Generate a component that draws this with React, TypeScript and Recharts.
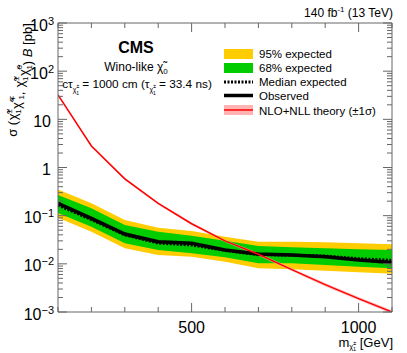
import React from "react";
import { ComposedChart, Area, Line, XAxis, YAxis } from "recharts";

// chargino mass points (GeV)
const masses = [100, 200, 300, 400, 500, 600, 700, 800, 900, 1000, 1100];

// cross section limits (pb)
const observed = [0.181, 0.088, 0.0417, 0.0288, 0.0267, 0.0194, 0.016, 0.0153, 0.0141, 0.012, 0.0106];
const medianExpected = [0.165, 0.083, 0.04, 0.027, 0.0246, 0.019, 0.0155, 0.0152, 0.0145, 0.0128, 0.0118];
const exp68Low = [0.113, 0.059, 0.0267, 0.0194, 0.0166, 0.0137, 0.0103, 0.0103, 0.0095, 0.0087, 0.0081];
const exp68High = [0.268, 0.142, 0.064, 0.0465, 0.0384, 0.0303, 0.0235, 0.0221, 0.021, 0.02, 0.0194];
const exp95Low = [0.09, 0.0465, 0.021, 0.0153, 0.0141, 0.0111, 0.0081, 0.0077, 0.0072, 0.0067, 0.0062];
const exp95High = [0.35, 0.181, 0.081, 0.056, 0.048, 0.0366, 0.0289, 0.0289, 0.028, 0.0267, 0.0255];

// NLO+NLL theory and its +-1 sigma band
const theory = [32, 2.8, 0.58, 0.18, 0.068, 0.03, 0.0158, 0.0076, 0.0037, 0.0019, 0.001];
const theoryLow = [30.5, 2.67, 0.55, 0.171, 0.064, 0.0283, 0.0148, 0.0071, 0.0034, 0.00175, 0.00092];
const theoryHigh = [33.5, 2.93, 0.61, 0.189, 0.072, 0.0318, 0.0168, 0.0081, 0.004, 0.00205, 0.00109];

// axis ticks
const xTicks = [100, 200, 300, 400, 500, 600, 700, 800, 900, 1000, 1100];
const xLabels: Record<number, string> = { 500: "500", 1000: "1000" };
const yMajorTicks = [0.001, 0.01, 0.1, 1, 10, 100, 1000];
const yTickBase = ["10", "10", "10", "1", "10", "10", "10"];
const yTickExp = ["\u22123", "\u22122", "\u22121", "", "", "2", "3"];

const yTicks: number[] = [];
yMajorTicks.forEach((d, i) => {
  const n = i === yMajorTicks.length - 1 ? 1 : 9;
  for (let k = 1; k <= n; k++) yTicks.push(d * k);
});

const data = masses.map((m, i) => ({
  m,
  obs: observed[i],
  median: medianExpected[i],
  band68: [exp68Low[i], exp68High[i]],
  band95: [exp95Low[i], exp95High[i]],
  theory: theory[i],
  theoryBand: [theoryLow[i], theoryHigh[i]],
}));

const FONT = "'Liberation Sans', Arial, Helvetica, sans-serif";
const AXIS = "#666";
const YELLOW = "#ffcc00";
const GREEN = "#00cc00";
const RED = "#ff0000";
const PINK = "#ffb3b3";

const isMajorY = (v: number) => yMajorTicks.indexOf(v);

const BottomTick = (props: any) => {
  const { x, y, payload } = props;
  const label = xLabels[payload.value];
  return (
    <g>
      <line x1={x} x2={x} y1={y} y2={y - (label ? 9 : 5)} stroke={AXIS} />
      {label && (
        <text x={x} y={y + 21} textAnchor="middle" fontSize={16} fontFamily={FONT} fill="#000">
          {label}
        </text>
      )}
    </g>
  );
};

const TopTick = (props: any) => {
  const { x, y, payload } = props;
  const major = !!xLabels[payload.value];
  return <line x1={x} x2={x} y1={y} y2={y + (major ? 9 : 5)} stroke={AXIS} />;
};

const LeftTick = (props: any) => {
  const { x, y, payload } = props;
  const idx = isMajorY(payload.value);
  const major = idx >= 0;
  return (
    <g>
      <line x1={x} x2={x + (major ? 9 : 5)} y1={y} y2={y} stroke={AXIS} />
      {major && (
        <text
          x={yTickExp[idx] ? x - 4 : x - 7}
          y={y + 7.5}
          textAnchor="end"
          fontSize={16}
          fontFamily={FONT}
          fill="#000"
        >
          {yTickBase[idx]}
          {yTickExp[idx] && (
            <tspan dy={-6} fontSize={11}>
              {yTickExp[idx]}
            </tspan>
          )}
        </text>
      )}
    </g>
  );
};

const RightTick = (props: any) => {
  const { x, y, payload } = props;
  const major = isMajorY(payload.value) >= 0;
  return <line x1={x} x2={x - (major ? 9 : 5)} y1={y} y2={y} stroke={AXIS} />;
};

// chi-tilde with a superscript / subscript pair, drawn with tspans
const Chi = ({ sup, sub, size }: { sup: string; sub: string; size: number }) => {
  const s = size * 0.6;
  return (
    <>
      <tspan fontSize={size} dx={0.5}>{"\u03c7\u0303"}</tspan>
      <tspan fontSize={s} dy={-size * 0.42}>
        {sup}
      </tspan>
      <tspan fontSize={s} dx={-s * 0.58} dy={size * 0.7}>
        {sub}
      </tspan>
      <tspan fontSize={size} dx={1} dy={-size * 0.28}>
        {""}
      </tspan>
    </>
  );
};

const Overlay = () => (
  <svg
    width={407}
    height={353}
    style={{ position: "absolute", left: 0, top: 0, pointerEvents: "none" }}
    fontFamily={FONT}
  >
    <text x={393} y={17} textAnchor="end" fontSize={12}>
      {"140 fb"}
      <tspan dy={-5} fontSize={8}>
        {"-1"}
      </tspan>
      <tspan dy={5}>{" (13 TeV)"}</tspan>
    </text>

    <text x={136} y={53} textAnchor="middle" fontSize={16} fontWeight="bold">
      CMS
    </text>
    <text x={136} y={71} textAnchor="middle" fontSize={12}>
      {"Wino-like \u03c7\u0303"}
      <tspan dy={3} fontSize={8}>
        0
      </tspan>
    </text>
    <text x={137} y={88} textAnchor="middle" fontSize={11.8}>
      {"c\u03c4"}
      <tspan dy={4} fontSize={7}>
        {"\u03c7\u0303"}
      </tspan>
      <tspan dy={-4} fontSize={5}>
        {"\u00b1"}
      </tspan>
      <tspan dx={-3} dy={7} fontSize={5}>
        1
      </tspan>
      <tspan dy={-7}>{" = 1000 cm (\u03c4"}</tspan>
      <tspan dy={4} fontSize={7}>
        {"\u03c7\u0303"}
      </tspan>
      <tspan dy={-4} fontSize={5}>
        {"\u00b1"}
      </tspan>
      <tspan dx={-3} dy={7} fontSize={5}>
        1
      </tspan>
      <tspan dy={-7}>{" = 33.4 ns)"}</tspan>
    </text>

    {/* legend */}
    <rect x={224} y={49} width={29} height={10} fill={YELLOW} />
    <rect x={224} y={63} width={29} height={10} fill={GREEN} />
    <line x1={224} x2={253} y1={82} y2={82} stroke="#000" strokeWidth={3} strokeDasharray="2 1.5" />
    <line x1={224} x2={253} y1={95.5} y2={95.5} stroke="#000" strokeWidth={3.5} />
    <rect x={224} y={105} width={29} height={10} fill={PINK} />
    <line x1={224} x2={253} y1={110} y2={110} stroke={RED} strokeWidth={1.5} />
    <g fontSize={11.5}>
      <text x={259} y={58}>95% expected</text>
      <text x={259} y={72}>68% expected</text>
      <text x={259} y={86}>Median expected</text>
      <text x={259} y={100}>Observed</text>
      <text x={259} y={114.5}>{"NLO+NLL theory (\u00b11\u03c3)"}</text>
    </g>

    {/* x title */}
    <text x={393} y={346.5} textAnchor="end" fontSize={13}>
      m
      <tspan dy={2} fontSize={7.5}>
        {"\u03c7\u0303"}
      </tspan>
      <tspan dy={-4} fontSize={5.5}>
        {"\u00b1"}
      </tspan>
      <tspan dx={-3.2} dy={6} fontSize={5.5}>
        1
      </tspan>
      <tspan dy={-4}>{" [GeV]"}</tspan>
    </text>

    {/* y title */}
    <text transform="translate(17,80) rotate(-90)" textAnchor="middle" fontSize={13}>
      {"\u03c3 ("}
      <Chi sup={"\u00b1"} sub="1" size={13} />
      <Chi sup={"\u2213"} sub="1" size={13} />
      {", "}
      <Chi sup={"\u00b1"} sub="1" size={13} />
      <Chi sup="0" sub="1" size={13} />
      {") "}
      <tspan fontStyle="italic">B</tspan>
      {" [pb]"}
    </text>
  </svg>
);

export default function App() {
  return (
    <div style={{ position: "absolute", left: 0, top: 0, width: 407, height: 353, background: "#fff" }}>
      <ComposedChart width={407} height={353} data={data} margin={{ top: 0, right: 0, bottom: 0, left: 0 }}>
        <XAxis
          xAxisId="x"
          dataKey="m"
          type="number"
          domain={[100, 1100]}
          allowDataOverflow
          ticks={xTicks}
          interval={0}
          height={41}
          tickSize={0}
          tickMargin={0}
          tickLine={false}
          axisLine={{ stroke: AXIS }}
          tick={<BottomTick />}
        />
        <XAxis
          xAxisId="top"
          orientation="top"
          dataKey="m"
          type="number"
          domain={[100, 1100]}
          allowDataOverflow
          ticks={xTicks}
          interval={0}
          height={23}
          tickSize={0}
          tickMargin={0}
          tickLine={false}
          axisLine={{ stroke: AXIS }}
          tick={<TopTick />}
        />
        <YAxis
          yAxisId="y"
          scale="log"
          type="number"
          domain={[0.001, 1000]}
          allowDataOverflow
          ticks={yTicks}
          interval={0}
          width={58}
          tickSize={0}
          tickMargin={0}
          tickLine={false}
          axisLine={{ stroke: AXIS }}
          tick={<LeftTick />}
        />
        <YAxis
          yAxisId="right"
          orientation="right"
          scale="log"
          type="number"
          domain={[0.001, 1000]}
          allowDataOverflow
          ticks={yTicks}
          interval={0}
          width={15}
          tickSize={0}
          tickMargin={0}
          tickLine={false}
          axisLine={{ stroke: AXIS }}
          tick={<RightTick />}
        />
        <Area
          xAxisId="x"
          yAxisId="y"
          dataKey="band95"
          type="linear"
          fill={YELLOW}
          fillOpacity={1}
          stroke="none"
          isAnimationActive={false}
          activeDot={false}
        />
        <Area
          xAxisId="x"
          yAxisId="y"
          dataKey="band68"
          type="linear"
          fill={GREEN}
          fillOpacity={1}
          stroke="none"
          isAnimationActive={false}
          activeDot={false}
        />
        <Area
          xAxisId="x"
          yAxisId="y"
          dataKey="theoryBand"
          type="linear"
          fill={PINK}
          fillOpacity={0.8}
          stroke="none"
          isAnimationActive={false}
          activeDot={false}
        />
        <Line
          xAxisId="x"
          yAxisId="y"
          dataKey="median"
          type="linear"
          stroke="#000"
          strokeWidth={3}
          strokeDasharray="2 1.5"
          dot={false}
          activeDot={false}
          isAnimationActive={false}
        />
        <Line
          xAxisId="x"
          yAxisId="y"
          dataKey="obs"
          type="linear"
          stroke="#000"
          strokeWidth={3.5}
          dot={false}
          activeDot={false}
          isAnimationActive={false}
        />
        <Line
          xAxisId="x"
          yAxisId="y"
          dataKey="theory"
          type="linear"
          stroke={RED}
          strokeWidth={1.5}
          dot={false}
          activeDot={false}
          isAnimationActive={false}
        />
      </ComposedChart>
      <Overlay />
    </div>
  );
}
